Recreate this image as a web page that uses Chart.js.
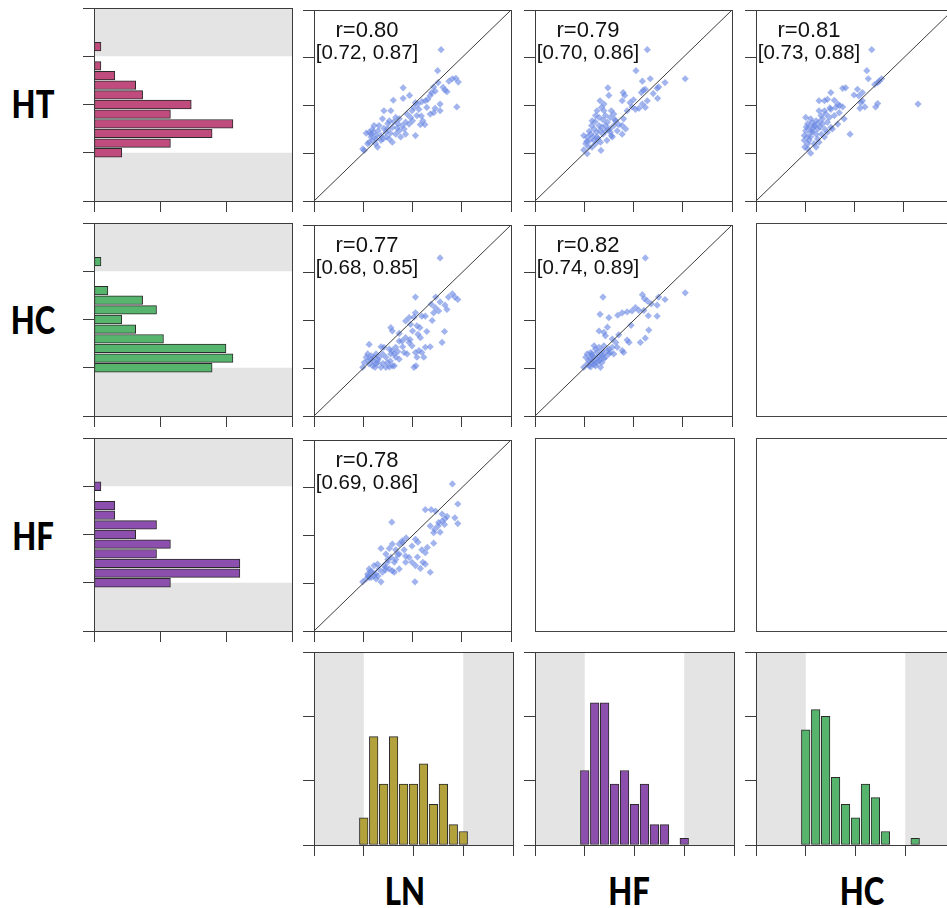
<!DOCTYPE html>
<html>
<head>
<meta charset="utf-8">
<script src="https://cdn.jsdelivr.net/npm/chart.js@4.4.1/dist/chart.umd.min.js"></script>
<style>
  html, body { margin: 0; padding: 0; background: #fff; }
  body { width: 947px; height: 908px; overflow: hidden; position: relative; }
  canvas { position: absolute; }
  .empty { position: absolute; box-sizing: border-box; border: 1px solid #444; }
  .lbl { position: absolute; transform: translate(-50%, -50%) scaleX(0.84); font-family: "Lato", sans-serif; font-weight: 900; font-size: 37px; line-height: 1; color: #000; white-space: nowrap; }
  .rt { position: absolute; transform: translate(-50%, -50%); font-family: "Liberation Sans", Arial, sans-serif; font-size: 22px; line-height: 1; color: #111; white-space: nowrap; }
  .ci { font-size: 20.5px; }
</style>
</head>
<body>
<script>
// ---------------- DATA ----------------
const ROW_VARS = ['HT', 'HC', 'HF'];
const COL_VARS = ['LN', 'HF', 'HC'];
const BIN_CENTERS = [1.0, 1.2, 1.4, 1.6, 1.8, 2.0, 2.2, 2.4, 2.6, 2.8, 3.0, 3.2];
const N_SUBJECTS = 95;
const COUNTS_HT = [4, 11, 17, 20, 11, 14, 7, 6, 3, 1, 0, 1];
const COUNTS_HC = [17, 20, 19, 10, 6, 4, 9, 7, 2, 0, 0, 1];
const COUNTS_HF = [11, 21, 21, 9, 11, 6, 9, 3, 3, 0, 1, 0];
const COUNTS_LN = [4, 16, 9, 16, 9, 9, 12, 6, 9, 3, 2, 0];
const VALUE_RANGE = [0, 4];
const VALUE_STEP = 1;
const PCT_RANGE = [0, 30];
const PCT_STEP = 10;
const NORMAL_RANGE = [1, 3];
const DIAGONAL = [0, 4];

const R_HT_LN = 'r=0.80', CI_HT_LN = '[0.72, 0.87]';
const R_HT_HF = 'r=0.79', CI_HT_HF = '[0.70, 0.86]';
const R_HT_HC = 'r=0.81', CI_HT_HC = '[0.73, 0.88]';
const R_HC_LN = 'r=0.77', CI_HC_LN = '[0.68, 0.85]';
const R_HC_HF = 'r=0.82', CI_HC_HF = '[0.74, 0.89]';
const R_HF_LN = 'r=0.78', CI_HF_LN = '[0.69, 0.86]';

// scatter points [x (column var), y (row var)]
const PTS_HT_LN = [[2.58,3.17],[2.51,2.73],[2.81,2.56],[2.88,2.57],[2.93,2.49],[2.74,2.51],[2.66,2.32],[2.70,2.29],[2.52,2.48],[2.43,2.39],[2.39,2.27],[2.46,2.30],[2.90,1.97],[2.56,2.03],[2.56,1.89],[2.46,1.94],[2.36,1.82],[2.43,1.85],[1.81,2.37],[1.61,2.11],[1.81,2.15],[1.94,2.21],[2.06,2.06],[2.11,2.03],[2.19,2.08],[2.26,2.10],[2.31,2.13],[2.36,2.21],[2.03,1.96],[2.09,1.79],[2.21,1.68],[2.25,1.60],[2.16,1.60],[2.06,1.37],[1.42,1.89],[1.56,1.89],[1.66,1.75],[1.73,1.72],[1.53,1.68],[1.39,1.72],[1.32,1.58],[1.22,1.58],[1.49,1.51],[1.59,1.54],[1.69,1.53],[1.79,1.58],[1.86,1.65],[1.93,1.61],[1.96,1.75],[1.89,1.82],[1.12,1.44],[1.16,1.40],[1.26,1.37],[1.36,1.37],[1.47,1.34],[1.59,1.23],[1.53,1.30],[1.73,1.47],[1.86,1.40],[1.66,1.40],[1.12,1.23],[1.19,1.27],[1.26,1.30],[1.29,1.13],[0.99,1.09],[1.02,1.06],[1.09,1.20],[1.16,1.34],[1.20,1.44],[1.06,1.42],[1.36,1.27],[1.46,1.44],[1.76,1.34],[1.83,1.51],[1.99,1.89],[2.13,1.92],[2.29,1.96],[1.18,1.50],[1.30,1.47],[1.42,1.52],[1.50,1.62],[1.62,1.66],[1.70,1.62],[1.25,1.20],[1.40,1.30],[1.55,1.42],[2.00,1.68],[2.18,1.78],[2.62,2.38]];
const PTS_HT_HF = [[2.28,3.17],[2.05,2.73],[2.18,2.51],[2.34,2.56],[3.05,2.56],[2.64,2.48],[2.51,2.39],[2.48,2.36],[2.49,2.15],[1.48,2.37],[1.50,2.21],[1.79,2.27],[1.82,2.21],[1.77,2.10],[2.20,2.32],[2.16,2.27],[2.24,2.34],[2.28,2.10],[2.24,1.96],[2.11,1.94],[2.04,1.92],[2.18,2.03],[1.93,2.06],[1.97,1.97],[1.87,1.89],[1.32,2.10],[1.40,2.03],[1.35,1.96],[1.26,1.89],[1.23,1.79],[1.43,1.79],[1.53,1.75],[1.60,1.82],[1.64,1.68],[1.47,1.65],[1.70,1.60],[1.80,1.72],[1.77,1.58],[1.84,1.51],[1.36,1.54],[1.30,1.58],[1.20,1.51],[1.25,1.44],[1.32,1.47],[1.43,1.46],[1.53,1.44],[1.55,1.37],[0.99,1.37],[1.06,1.34],[1.11,1.27],[1.03,1.20],[0.99,1.07],[1.06,0.99],[1.16,1.13],[1.23,1.20],[1.33,1.23],[1.34,1.06],[1.46,1.27],[1.77,1.40],[1.52,1.51],[1.67,1.47],[1.16,1.68],[1.30,1.75],[1.40,1.89],[1.55,1.89],[1.26,1.34],[1.13,1.40],[1.43,1.58],[1.60,1.58],[1.20,1.27],[1.09,1.13],[1.57,1.34],[1.10,1.46],[1.18,1.35],[1.28,1.30],[1.38,1.40],[1.48,1.50],[1.15,1.58],[1.22,1.66],[1.38,1.70],[1.62,1.70],[1.05,1.25],[2.40,2.25],[2.00,2.12]];
const PTS_HT_HC = [[2.35,3.17],[2.25,2.73],[2.28,2.56],[2.50,2.51],[2.55,2.56],[2.47,2.48],[2.41,2.44],[3.29,2.03],[1.76,2.36],[1.82,2.37],[1.52,2.27],[1.28,2.10],[1.39,2.10],[1.45,2.13],[1.59,2.11],[1.66,2.03],[1.76,1.97],[1.62,1.96],[1.52,1.92],[1.39,1.89],[1.28,1.89],[2.16,2.27],[2.09,2.20],[1.99,2.22],[2.13,2.06],[2.11,1.94],[2.21,1.97],[2.43,1.97],[2.47,2.04],[1.01,1.75],[1.11,1.72],[1.22,1.68],[1.28,1.65],[1.18,1.58],[1.08,1.54],[1.01,1.47],[0.98,1.37],[0.98,1.27],[0.99,1.13],[1.11,1.00],[1.05,1.09],[1.18,1.20],[1.28,1.23],[1.39,1.34],[1.45,1.44],[1.55,1.51],[1.66,1.61],[1.79,1.72],[1.91,1.40],[1.33,1.40],[1.22,1.40],[1.11,1.34],[1.08,1.27],[1.15,1.51],[1.32,1.79],[1.42,1.82],[1.49,1.75],[1.59,1.79],[1.69,1.85],[1.25,1.51],[1.35,1.61],[1.45,1.65],[1.11,1.44],[1.05,1.20],[1.22,1.13],[1.52,1.54],[2.06,2.34],[2.16,2.10],[1.05,1.62],[1.15,1.45],[1.20,1.58],[1.30,1.55],[1.40,1.50],[1.05,1.35],[1.25,1.30],[1.35,1.72],[1.50,1.95],[1.70,2.00],[1.02,1.55],[1.14,1.64]];
const PTS_HC_LN = [[2.56,3.31],[2.06,2.49],[2.47,2.49],[2.81,2.56],[2.86,2.49],[2.92,2.44],[2.73,2.49],[2.56,2.39],[2.66,2.32],[2.70,2.23],[2.53,2.20],[2.46,2.27],[2.43,2.16],[2.38,2.34],[2.06,2.16],[2.03,2.07],[2.19,2.09],[2.26,2.09],[1.93,2.06],[1.86,1.99],[1.96,1.92],[1.56,1.85],[1.59,1.78],[1.73,1.73],[2.09,1.89],[2.11,1.71],[2.16,1.64],[2.29,1.77],[2.65,1.77],[2.60,1.54],[2.26,1.44],[2.36,1.45],[1.86,1.64],[1.79,1.57],[1.93,1.54],[1.99,1.47],[2.06,1.33],[2.13,1.37],[2.23,1.23],[2.09,1.23],[2.03,1.02],[2.07,1.05],[1.73,1.57],[1.66,1.44],[1.59,1.37],[1.53,1.40],[1.42,1.44],[1.36,1.45],[1.56,1.30],[1.63,1.30],[1.12,1.50],[1.09,1.30],[1.16,1.26],[1.22,1.23],[1.26,1.30],[1.32,1.23],[1.29,1.12],[1.19,1.05],[1.12,1.09],[1.02,1.12],[0.99,1.02],[1.24,1.02],[1.36,1.02],[1.53,1.03],[1.63,1.05],[1.66,1.23],[1.83,1.33],[1.89,1.30],[1.73,1.19],[1.39,1.30],[1.46,1.23],[1.49,1.12],[1.16,1.19],[1.06,1.23],[1.26,1.09],[1.59,1.05],[1.46,1.02],[2.19,1.33],[1.20,1.15],[1.30,1.18],[1.40,1.10],[1.10,1.16],[1.55,1.15],[1.70,1.35],[1.95,1.60],[2.00,1.78],[2.15,1.85],[2.40,2.00],[1.80,1.45]];
const PTS_HC_HF = [[2.24,3.31],[1.38,2.49],[3.05,2.58],[2.18,2.54],[2.22,2.46],[2.28,2.41],[2.36,2.35],[2.51,2.49],[2.64,2.44],[2.48,2.32],[2.04,2.27],[2.11,2.21],[2.21,2.21],[1.97,2.20],[1.87,2.18],[1.77,2.16],[1.68,2.11],[2.48,2.09],[1.32,2.13],[1.50,2.06],[1.47,1.86],[2.31,1.80],[2.14,1.54],[2.24,1.63],[1.30,1.78],[1.40,1.75],[1.43,1.68],[1.57,1.61],[1.64,1.54],[1.67,1.44],[1.77,1.37],[1.80,1.33],[1.87,1.59],[1.91,1.54],[1.20,1.47],[1.23,1.40],[1.30,1.44],[1.36,1.37],[1.47,1.37],[1.53,1.33],[1.40,1.30],[1.30,1.26],[1.13,1.33],[1.06,1.30],[1.03,1.23],[1.09,1.16],[0.99,1.02],[1.13,1.03],[1.23,1.05],[1.33,1.02],[1.26,1.12],[1.16,1.12],[1.43,1.23],[1.50,1.30],[1.60,1.30],[1.20,1.23],[1.33,1.19],[1.06,1.09],[1.26,1.33],[1.36,1.12],[1.57,1.44],[1.16,1.26],[1.40,1.47],[1.12,1.20],[1.18,1.15],[1.25,1.20],[1.30,1.15],[1.10,1.05],[1.20,1.08],[1.40,1.20],[1.35,1.28],[1.50,1.40],[1.70,1.70],[1.95,1.90],[2.30,2.10],[1.15,1.30]];
const PTS_HF_LN = [[2.81,3.08],[2.92,2.66],[2.26,2.54],[2.38,2.54],[2.47,2.51],[2.66,2.35],[2.60,2.30],[2.52,2.20],[2.45,2.13],[2.43,2.06],[2.56,2.07],[2.65,2.23],[2.92,2.25],[2.86,2.37],[1.58,2.28],[1.87,1.95],[1.79,1.89],[1.73,1.82],[1.59,1.82],[1.66,1.70],[1.53,1.73],[1.36,1.73],[2.06,1.92],[2.11,1.86],[2.19,1.70],[2.43,1.84],[2.26,1.64],[2.21,1.44],[2.26,1.40],[2.16,1.31],[2.36,1.23],[2.06,1.37],[1.99,1.44],[1.93,1.54],[1.86,1.57],[1.83,1.70],[1.73,1.61],[1.46,1.61],[1.56,1.54],[1.66,1.50],[1.63,1.44],[1.49,1.44],[1.42,1.37],[1.53,1.30],[1.63,1.23],[1.73,1.30],[1.12,1.30],[1.22,1.37],[1.29,1.40],[1.32,1.30],[1.19,1.23],[1.09,1.19],[1.16,1.12],[1.26,1.09],[1.06,1.09],[0.99,1.03],[1.36,1.03],[1.59,1.26],[2.05,1.03],[1.39,1.23],[1.12,1.12],[1.22,1.16],[1.46,1.33],[1.86,1.44],[1.99,1.78],[2.36,2.20],[2.53,2.27],[1.15,1.25],[1.25,1.20],[1.30,1.15],[1.10,1.15],[1.45,1.28],[1.50,1.50],[1.70,1.60],[1.80,1.85],[2.10,1.55],[2.30,1.75],[2.70,2.40],[2.60,2.45]];

// ---------------- STYLE / LAYOUT ----------------
const COLORS = { HT: '#c04c7e', HC: '#57b46d', HF: '#8d4fad', LN: '#b3a23c' };
const POINT_COLOR = 'rgba(104,134,226,0.62)';
const LINE_COLOR = '#3c3c3c';
const BAND_COLOR = '#e4e4e4';
const COL_L = [94, 314, 535, 756];
const COL_W = [198, 199, 199, 199];
const ROW_T = [8, 223, 438, 652];
const ROW_H = 193;
const TICK = 11;

const framePlugin = {
  id: 'frame',
  beforeDatasetsDraw(chart, args, opts) {
    const { ctx, chartArea: a } = chart;
    if (opts.band) {
      const s = chart.scales[opts.band];
      const p1 = s.getPixelForValue(NORMAL_RANGE[0]);
      const p3 = s.getPixelForValue(NORMAL_RANGE[1]);
      ctx.save();
      ctx.fillStyle = BAND_COLOR;
      if (opts.band === 'y') {
        ctx.fillRect(a.left, a.top, a.right - a.left, p3 - a.top);
        ctx.fillRect(a.left, p1, a.right - a.left, a.bottom - p1);
      } else {
        ctx.fillRect(a.left, a.top, p1 - a.left, a.bottom - a.top);
        ctx.fillRect(p3, a.top, a.right - p3, a.bottom - a.top);
      }
      ctx.restore();
    }
  },
  afterDraw(chart) {
    const { ctx, chartArea: a } = chart;
    const al = v => Math.round(v - 0.5) + 0.5;
    ctx.save();
    ctx.strokeStyle = LINE_COLOR;
    ctx.lineWidth = 1;
    ctx.strokeRect(al(a.left), al(a.top), al(a.right) - al(a.left), al(a.bottom) - al(a.top));
    ctx.restore();
  }
};
Chart.register(framePlugin);

function axis(range, step, pos) {
  return {
    type: 'linear', position: pos, min: range[0], max: range[1], offset: false,
    ticks: { display: false, stepSize: step },
    grid: { display: true, drawOnChartArea: false, drawTicks: true, tickLength: TICK, color: LINE_COLOR, lineWidth: 1, offset: false },
    border: { display: true, color: LINE_COLOR, width: 1 },
    afterFit(s) { if (s.isHorizontal()) s.height = 12; else s.width = 12; }
  };
}

function makeCanvas(r, c) {
  const L = COL_L[c], T = ROW_T[r], W = COL_W[c], H = ROW_H;
  const cv = document.createElement('canvas');
  cv.width = W + 14; cv.height = H + 14;
  cv.style.left = (L - 12) + 'px';
  cv.style.top = (T - 2) + 'px';
  cv.style.width = cv.width + 'px';
  cv.style.height = cv.height + 'px';
  document.body.appendChild(cv);
  return cv;
}

function baseOptions(scales, band) {
  return {
    responsive: false, animation: false, devicePixelRatio: 1, events: [],
    layout: { padding: { left: 0, top: 2, right: 2, bottom: 0 } },
    plugins: { legend: { display: false }, tooltip: { enabled: false }, frame: { band } },
    scales
  };
}

const pct = n => n / N_SUBJECTS * 100;

function leftHist(r, counts, color) {
  const data = BIN_CENTERS.map((b, i) => ({ x: pct(counts[i]), y: b })).filter(d => d.x > 0);
  new Chart(makeCanvas(r, 0), {
    type: 'bar',
    data: { datasets: [{ data, backgroundColor: color, borderColor: '#2a2a2a', borderWidth: 1, borderSkipped: false, barThickness: 8.6 }] },
    options: Object.assign(baseOptions({ x: axis(PCT_RANGE, PCT_STEP, 'bottom'), y: axis(VALUE_RANGE, VALUE_STEP, 'left') }, 'y'), { indexAxis: 'y' })
  });
}

function bottomHist(c, counts, color) {
  const data = BIN_CENTERS.map((b, i) => ({ x: b, y: pct(counts[i]) })).filter(d => d.y > 0);
  new Chart(makeCanvas(3, c), {
    type: 'bar',
    data: { datasets: [{ data, backgroundColor: color, borderColor: '#2a2a2a', borderWidth: 1, borderSkipped: false, barThickness: 8.6 }] },
    options: baseOptions({ x: axis(VALUE_RANGE, VALUE_STEP, 'bottom'), y: axis(PCT_RANGE, PCT_STEP, 'left') }, 'x')
  });
}

function scatter(r, c, pts, rTxt, ciTxt) {
  new Chart(makeCanvas(r, c), {
    type: 'scatter',
    data: { datasets: [
      { type: 'line', data: DIAGONAL.map(v => ({ x: v, y: v })), borderColor: LINE_COLOR, borderWidth: 1, pointRadius: 0, fill: false },
      { data: pts.map(p => ({ x: p[0], y: p[1] })), backgroundColor: POINT_COLOR, pointStyle: 'rectRot', pointRadius: 3.6, borderWidth: 0, pointBorderWidth: 0 }
    ] },
    options: baseOptions({ x: axis(VALUE_RANGE, VALUE_STEP, 'bottom'), y: axis(VALUE_RANGE, VALUE_STEP, 'left') }, null)
  });
  const cx = COL_L[c] + 53, T = ROW_T[r];
  addText('rt', rTxt, cx, T + 21.5);
  addText('rt ci', ciTxt, cx, T + 44);
}

function addText(cls, txt, x, y) {
  const d = document.createElement('div');
  d.className = cls; d.textContent = txt;
  d.style.left = x + 'px'; d.style.top = y + 'px';
  document.body.appendChild(d);
}

function emptyPanel(r, c) {
  const d = document.createElement('div');
  d.className = 'empty';
  d.style.left = COL_L[c] + 'px'; d.style.top = ROW_T[r] + 'px';
  d.style.width = (COL_W[c] + 1) + 'px'; d.style.height = (ROW_H + 1) + 'px';
  document.body.appendChild(d);
}

// left histograms (row variables)
leftHist(0, COUNTS_HT, COLORS.HT);
leftHist(1, COUNTS_HC, COLORS.HC);
leftHist(2, COUNTS_HF, COLORS.HF);
// scatter panels
scatter(0, 1, PTS_HT_LN, R_HT_LN, CI_HT_LN);
scatter(0, 2, PTS_HT_HF, R_HT_HF, CI_HT_HF);
scatter(0, 3, PTS_HT_HC, R_HT_HC, CI_HT_HC);
scatter(1, 1, PTS_HC_LN, R_HC_LN, CI_HC_LN);
scatter(1, 2, PTS_HC_HF, R_HC_HF, CI_HC_HF);
scatter(2, 1, PTS_HF_LN, R_HF_LN, CI_HF_LN);
emptyPanel(1, 3); emptyPanel(2, 2); emptyPanel(2, 3);
// bottom histograms (column variables)
bottomHist(1, COUNTS_LN, COLORS.LN);
bottomHist(2, COUNTS_HF, COLORS.HF);
bottomHist(3, COUNTS_HC, COLORS.HC);

// variable labels
const ROW_LABEL_POS = [[33, 103], [33, 319], [33, 535]];
const COL_LABEL_POS = [[405, 890], [629, 890], [862, 890]];
ROW_VARS.forEach((v, i) => addText('lbl', v, ROW_LABEL_POS[i][0], ROW_LABEL_POS[i][1]));
COL_VARS.forEach((v, i) => addText('lbl', v, COL_LABEL_POS[i][0], COL_LABEL_POS[i][1]));
</script>
</body>
</html>
